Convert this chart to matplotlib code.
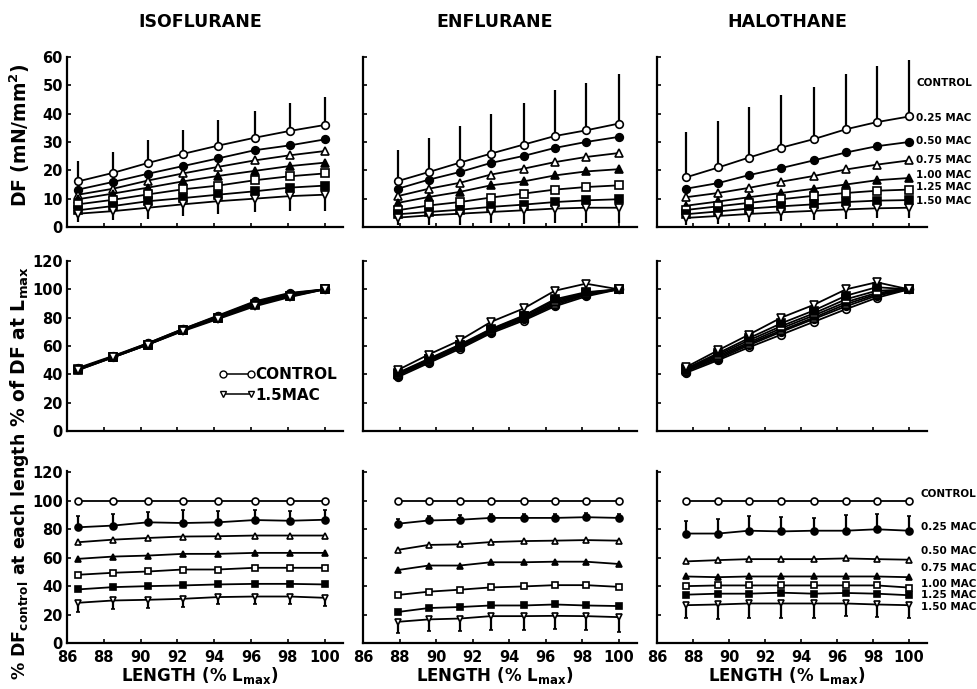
import numpy as np
import matplotlib.pyplot as plt
from matplotlib.lines import Line2D

plt.rcParams['font.family'] = ['DejaVu Sans']
plt.rcParams['font.weight'] = 'bold'
plt.rcParams['mathtext.default'] = 'bf'

# Data
drugs = ['ISOFLURANE', 'ENFLURANE', 'HALOTHANE']
groups = ['CONTROL', '0.25 MAC', '0.50 MAC', '0.75 MAC', '1.00 MAC', '1.25 MAC', '1.50 MAC']

length_iso = [86.6, 88.5, 90.4, 92.3, 94.2, 96.2, 98.1, 100.0]
length_enf = [87.9, 89.6, 91.3, 93.0, 94.8, 96.5, 98.2, 100.0]
length_hal = [87.6, 89.4, 91.1, 92.9, 94.7, 96.5, 98.2, 100.0]

# DF (mN/mm2), one list per group
df_iso = [
    [16.1, 19.1, 22.6, 25.8, 28.7, 31.5, 33.9, 36.0],
    [13.2, 15.9, 18.8, 21.5, 24.2, 27.1, 28.8, 30.9],
    [11.4, 13.5, 16.4, 18.9, 21.2, 23.5, 25.3, 26.8],
    [9.8, 11.8, 13.9, 16.1, 18.0, 19.8, 21.5, 22.7],
    [8.0, 9.6, 11.5, 13.3, 14.6, 16.5, 17.9, 18.9],
    [5.9, 7.4, 9.1, 10.2, 11.4, 12.6, 13.9, 14.6],
    [4.7, 5.6, 6.8, 8.0, 9.1, 10.0, 10.9, 11.4],
]
df_enf = [
    [16.2, 19.4, 22.7, 25.9, 29.1, 32.1, 34.1, 36.5],
    [13.5, 16.7, 19.4, 22.6, 25.1, 27.9, 30.0, 31.8],
    [10.9, 13.5, 15.6, 18.5, 20.6, 22.9, 24.7, 26.1],
    [8.5, 10.6, 12.4, 14.7, 16.1, 18.2, 19.6, 20.4],
    [5.9, 7.6, 8.8, 10.4, 11.8, 13.2, 14.1, 14.7],
    [4.5, 5.3, 6.1, 7.1, 7.9, 8.8, 9.4, 9.8],
    [3.3, 4.1, 4.7, 5.3, 5.9, 6.5, 6.8, 6.8],
]
df_hal = [
    [17.5, 21.0, 24.5, 28.0, 31.0, 34.5, 37.0, 39.0],
    [13.5, 15.5, 18.3, 20.8, 23.5, 26.3, 28.5, 30.0],
    [10.5, 12.0, 13.8, 16.0, 18.0, 20.3, 22.0, 23.5],
    [7.5, 9.0, 10.5, 12.0, 13.5, 15.0, 16.5, 17.3],
    [6.0, 7.3, 8.5, 9.8, 11.0, 12.0, 12.8, 13.2],
    [4.5, 5.5, 6.5, 7.3, 8.0, 8.8, 9.3, 9.5],
    [3.2, 3.9, 4.6, 5.2, 5.7, 6.2, 6.6, 6.8],
]
# SD of DF: control (upwards) and 1.50 MAC (downwards)
df_sd_ctrl = [
    [7.1, 7.4, 8.0, 8.6, 8.9, 9.3, 9.9, 9.9],
    [10.9, 12.0, 12.9, 14.1, 14.8, 16.1, 16.8, 17.6],
    [16.0, 16.5, 18.0, 18.5, 18.5, 19.5, 20.0, 20.0],
]
df_sd_150 = [
    [2.9, 3.2, 3.9, 4.2, 4.4, 4.7, 5.3, 5.8],
    [2.7, 3.3, 3.9, 4.0, 4.7, 5.0, 5.3, 5.5],
    [2.5, 3.0, 3.0, 3.0, 3.2, 3.3, 3.5, 3.5],
]

# % of DF at Lmax
pct_lmax_iso = [
    [44.5, 53.0, 62.0, 72.0, 81.5, 91.5, 97.5, 100],
    [44.0, 52.5, 62.0, 72.0, 81.0, 91.0, 97.0, 100],
    [44.0, 52.5, 61.5, 71.5, 80.5, 90.5, 96.5, 100],
    [43.5, 52.5, 61.5, 71.5, 80.0, 90.0, 96.0, 100],
    [43.5, 52.0, 61.0, 71.0, 80.0, 89.5, 95.5, 100],
    [43.0, 52.0, 61.0, 71.0, 79.5, 89.0, 95.0, 100],
    [43.0, 52.0, 61.0, 70.5, 79.0, 88.0, 94.5, 100],
]
pct_lmax_enf = [
    [38.0, 48.0, 58.0, 69.0, 78.0, 88.0, 95.0, 100],
    [39.0, 49.0, 59.0, 70.0, 79.0, 89.0, 96.0, 100],
    [39.5, 49.5, 59.5, 70.5, 79.5, 90.0, 96.5, 100],
    [40.0, 50.0, 60.0, 71.0, 80.0, 91.0, 97.0, 100],
    [40.5, 50.5, 60.5, 71.5, 81.0, 92.0, 97.5, 100],
    [41.0, 51.0, 61.0, 72.0, 81.5, 93.0, 98.0, 100],
    [43.0, 54.0, 64.0, 77.0, 86.5, 99.0, 104.0, 100],
]
pct_lmax_hal = [
    [41.0, 50.0, 59.0, 68.0, 77.0, 86.0, 94.0, 100],
    [42.0, 51.0, 60.5, 70.0, 79.0, 88.0, 95.5, 100],
    [42.5, 52.0, 61.5, 71.0, 80.0, 89.5, 96.5, 100],
    [43.0, 53.0, 62.5, 72.5, 81.5, 91.0, 97.5, 100],
    [43.5, 54.0, 64.0, 74.0, 83.0, 93.0, 99.0, 100],
    [44.0, 55.0, 65.5, 76.0, 85.0, 95.5, 101.5, 100],
    [45.0, 57.0, 68.0, 80.0, 89.0, 100.0, 105.0, 100],
]

# % of control DF at each length
pct_ctrl_iso = [
    [100, 100, 100, 100, 100, 100, 100, 100],
    [81.4, 82.6, 84.9, 84.4, 84.9, 86.5, 86.0, 86.7],
    [70.9, 72.7, 73.9, 74.9, 75.1, 75.6, 75.6, 75.6],
    [59.2, 60.8, 61.5, 62.7, 62.7, 63.4, 63.4, 63.4],
    [48.0, 49.4, 50.3, 51.7, 51.7, 52.9, 52.9, 52.9],
    [37.7, 39.3, 40.0, 40.5, 41.2, 41.6, 41.6, 41.2],
    [28.3, 29.9, 30.4, 31.1, 32.3, 32.7, 32.7, 31.8],
]
pct_ctrl_enf = [
    [100, 100, 100, 100, 100, 100, 100, 100],
    [83.9, 86.2, 86.7, 88.0, 88.0, 88.0, 88.5, 88.0],
    [65.5, 69.0, 69.4, 71.0, 71.7, 72.0, 72.4, 72.0],
    [51.3, 54.5, 54.5, 56.8, 56.8, 57.2, 57.2, 55.6],
    [33.8, 36.1, 37.5, 39.1, 39.8, 40.7, 40.7, 39.5],
    [21.8, 24.6, 25.3, 26.4, 26.4, 27.1, 26.4, 26.0],
    [14.9, 16.6, 17.2, 18.9, 18.9, 19.1, 18.9, 18.2],
]
pct_ctrl_hal = [
    [100, 100, 100, 100, 100, 100, 100, 100],
    [77.0, 77.0, 79.0, 78.5, 79.0, 79.0, 80.0, 79.0],
    [57.4, 58.3, 59.0, 59.0, 59.0, 59.5, 59.0, 58.6],
    [46.8, 46.3, 46.8, 46.8, 46.8, 46.8, 46.8, 46.3],
    [40.0, 40.5, 40.5, 40.5, 40.5, 40.5, 40.5, 39.0],
    [34.0, 34.7, 34.7, 35.4, 34.7, 35.2, 34.7, 33.6],
    [26.6, 27.1, 27.8, 27.8, 27.8, 27.8, 27.1, 26.6],
]
# SD: 0.25 MAC (upwards) and 1.50 MAC (downwards)
pct_sd_025 = [
    [8, 8, 7, 9, 8, 7, 7, 7],
    [3, 3, 3, 3, 3, 3, 3, 3],
    [9, 10, 10, 10, 9, 11, 11, 10],
]
pct_sd_150 = [
    [6.5, 6, 6, 6, 5, 5, 5, 6],
    [8, 8.5, 8.5, 9.5, 10, 9.5, 10, 10.5],
    [9, 10, 10, 10, 10, 9, 9, 9],
]

# right-hand group labels (data y positions as printed)
top_label_y = [51, 38.5, 30.5, 23.5, 18.3, 14.0, 9.3]
bot_label_y = [105, 81.4, 65, 52.6, 41.4, 33.7, 25.3]

lengths = [length_iso, length_enf, length_hal]
rows = [[df_iso, df_enf, df_hal],
        [pct_lmax_iso, pct_lmax_enf, pct_lmax_hal],
        [pct_ctrl_iso, pct_ctrl_enf, pct_ctrl_hal]]

markers = ['o', 'o', '^', '^', 's', 's', 'v']
faces = ['white', 'black', 'white', 'black', 'white', 'black', 'white']

W, H = 977, 689
col_px = [(67, 276), (363, 274), (657, 270)]
row_px = [(57, 227), (261, 431), (471, 643)]
ylims = [(0, 60), (0, 120), (0, 121)]
yticks = [np.arange(0, 61, 10), np.arange(0, 121, 20), np.arange(0, 121, 20)]

fig = plt.figure(figsize=(W / 100, H / 100), dpi=100)

for r in range(3):
    for c in range(3):
        x0, w = col_px[c]
        y0, y1 = row_px[r]
        ax = fig.add_axes([x0 / W, 1 - y1 / H, w / W, (y1 - y0) / H])
        x = lengths[c]
        for g in range(7):
            y = rows[r][c][g]
            lo = np.zeros(8)
            up = np.zeros(8)
            if r == 0 and g == 0:
                up = np.array(df_sd_ctrl[c])
            if r == 0 and g == 6:
                lo = np.array(df_sd_150[c])
            if r == 2 and g == 1:
                up = np.array(pct_sd_025[c])
            if r == 2 and g == 6:
                lo = np.array(pct_sd_150[c])
            ax.errorbar(x, y, yerr=[lo, up], color='black', lw=1.3,
                        elinewidth=1.6, capsize=1.5 if r == 2 else 0,
                        marker=markers[g], mfc=faces[g], mec='black',
                        mew=1.2, ms=5.5 if r < 2 else 5)
        ax.set_xlim(86, 101)
        ax.set_ylim(*ylims[r])
        ax.set_xticks(np.arange(86, 101, 2))
        ax.set_yticks(yticks[r])
        for s in ['top', 'right']:
            ax.spines[s].set_visible(False)
        for s in ['left', 'bottom']:
            ax.spines[s].set_linewidth(1.6)
        ax.tick_params(direction='in', length=3, width=1.2, labelsize=10.5)
        ax.tick_params(axis='x', pad=5)
        ax.tick_params(axis='y', pad=3)
        if c > 0:
            ax.tick_params(labelleft=False)
        if r < 2:
            ax.tick_params(labelbottom=False)
        for lab in ax.get_xticklabels() + ax.get_yticklabels():
            lab.set_fontweight('bold')

        if r == 0 and c == 2:
            for g in range(7):
                ax.text(100.4, top_label_y[g], groups[g], fontsize=7.5,
                        fontweight='bold', va='center', clip_on=False)
        if r == 2 and c == 2:
            for g in range(7):
                ax.text(100.65, bot_label_y[g], groups[g], fontsize=7.5,
                        fontweight='bold', va='center', clip_on=False)
        if r == 1 and c == 0:
            handles = [Line2D([], [], color='black', lw=1.1, marker='o',
                              mfc='white', mec='black', ms=5),
                       Line2D([], [], color='black', lw=1.1, marker='v',
                              mfc='white', mec='black', ms=5)]
            ax.legend(handles, ['CONTROL', '1.5MAC'], numpoints=2,
                      frameon=False, loc='center left',
                      bbox_to_anchor=(0.5, 0.27), handlelength=2.4,
                      handletextpad=0.0, labelspacing=0.35,
                      prop={'weight': 'bold', 'size': 11})

# column titles and axis labels
for c in range(3):
    x0, w = col_px[c]
    fig.text((x0 + w / 2 - 5) / W, 1 - 22 / H, drugs[c], ha='center',
             va='center', fontsize=12.5, fontweight='bold')
    fig.text((x0 + w / 2 - 5) / W, 1 - 676 / H, 'LENGTH (% L$_{max}$)',
             ha='center', va='center', fontsize=12, fontweight='bold')

fig.text(20 / W, 1 - 135 / H, 'DF (mN/mm$^2$)', rotation=90, ha='center',
         va='center', fontsize=13.5, fontweight='bold')
fig.text(20 / W, 1 - 347 / H, '% of DF at L$_{max}$', rotation=90,
         ha='center', va='center', fontsize=13.5, fontweight='bold')
fig.text(20 / W, 1 - 556 / H, '% DF$_{control}$ at each length', rotation=90,
         ha='center', va='center', fontsize=12.5, fontweight='bold')

fig.savefig('out.png', dpi=100)
